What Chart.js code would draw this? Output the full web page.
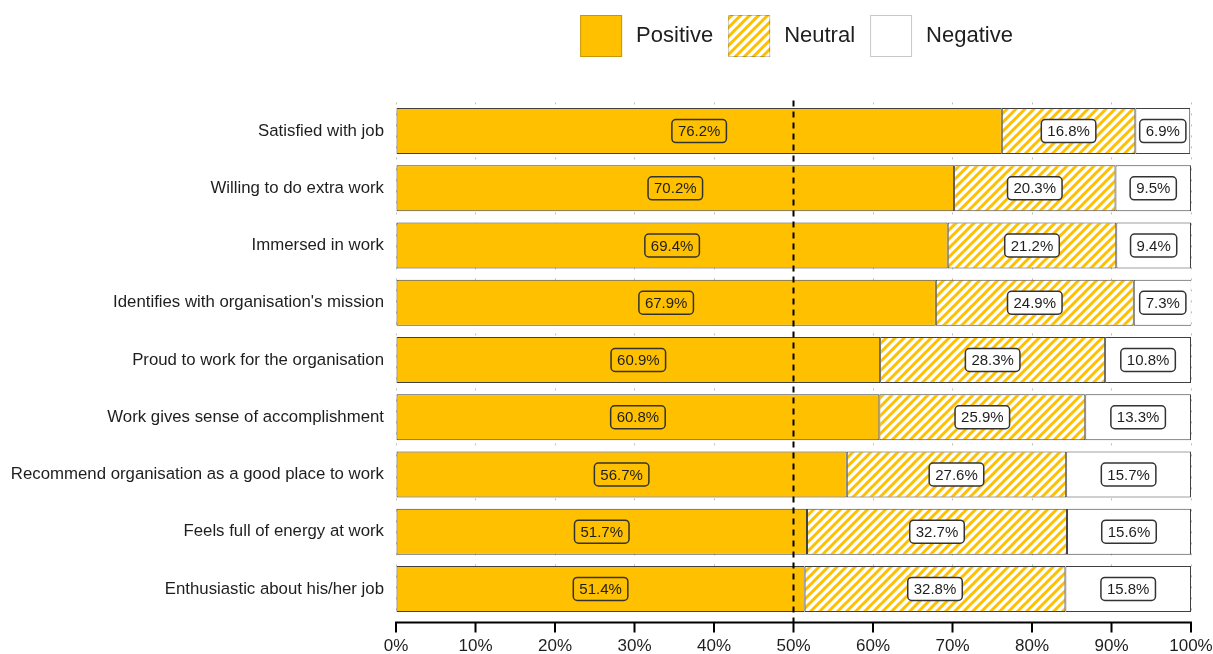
<!DOCTYPE html>
<html>
<head>
<meta charset="utf-8">
<script src="https://cdn.jsdelivr.net/npm/chart.js@4.4.1/dist/chart.umd.min.js"></script>
<style>
  html, body { margin: 0; padding: 0; background: #fff; }
  #wrap { width: 1213px; height: 654px; }
</style>
</head>
<body>
<div id="wrap"><canvas id="engChart" width="1213" height="654"></canvas></div>
<script>
// data
const categories = [
    'Satisfied with job',
    'Willing to do extra work',
    'Immersed in work',
    "Identifies with organisation's mission",
    'Proud to work for the organisation',
    'Work gives sense of accomplishment',
    'Recommend organisation as a good place to work',
    'Feels full of energy at work',
    'Enthusiastic about his/her job'
];
const positive = [76.2, 70.2, 69.4, 67.9, 60.9, 60.8, 56.7, 51.7, 51.4];
const neutral  = [16.8, 20.3, 21.2, 24.9, 28.3, 25.9, 27.6, 32.7, 32.8];
const negative = [6.9, 9.5, 9.4, 7.3, 10.8, 13.3, 15.7, 15.6, 15.8];
const seriesNames = ['Positive', 'Neutral', 'Negative'];
const xTickStep = 10;
const refLine = 50;

const FONT = "'Liberation Sans', Arial, sans-serif";
const GOLD = '#FFC000';
const INK = '#1e1e1e';

// diagonal hatch for the neutral share
const makeHatch = () => {
    const s = 9;
    const c = document.createElement('canvas');
    c.width = s; c.height = s;
    const g = c.getContext('2d');
    g.fillStyle = '#fff';
    g.fillRect(0, 0, s, s);
    g.strokeStyle = GOLD;
    g.lineWidth = 3;
    g.beginPath();
    g.moveTo(-2, s + 2); g.lineTo(s + 2, -2);
    g.moveTo(-2, 2); g.lineTo(2, -2);
    g.moveTo(s - 2, s + 2); g.lineTo(s + 2, s - 2);
    g.stroke();
    return g.createPattern(c, 'repeat');
};

// legend drawn at the top, centred on the plot area
const legendPlugin = {
    id: 'topLegend',
    afterDraw(chart) {
        const ctx = chart.ctx;
        const box = 42, gapText = 14, gapItem = 15, top = 15;
        ctx.save();
        ctx.font = '22px ' + FONT;
        const items = chart.data.datasets.map(ds => ({ ds, w: ctx.measureText(ds.label).width }));
        const total = items.reduce((a, it) => a + box + gapText + it.w, 0) + gapItem * (items.length - 1);
        let x = (chart.chartArea.left + chart.chartArea.right) / 2 - total / 2 + 3;
        items.forEach(it => {
            ctx.fillStyle = it.ds.backgroundColor;
            ctx.fillRect(x, top, box, box);
            ctx.strokeStyle = 'rgba(0,0,0,0.22)';
            ctx.lineWidth = 1;
            ctx.strokeRect(x + 0.5, top + 0.5, box - 1, box - 1);
            ctx.fillStyle = INK;
            ctx.textBaseline = 'middle';
            ctx.textAlign = 'left';
            ctx.fillText(it.ds.label, x + box + gapText, top + box / 2);
            x += box + gapText + it.w + gapItem;
        });
        ctx.restore();
    }
};

// axis line a bit below the bars, 50% dashed line, value boxes
const overlayPlugin = {
    id: 'overlay',
    afterDatasetsDraw(chart) {
        const ctx = chart.ctx;
        const xs = chart.scales.x;
        const area = chart.chartArea;
        const axisY = area.bottom + 5;

        ctx.save();
        // x axis line + ticks
        ctx.strokeStyle = '#000';
        ctx.lineWidth = 2;
        ctx.beginPath();
        ctx.moveTo(area.left - 1, axisY);
        ctx.lineTo(area.right + 1, axisY);
        xs.ticks.forEach((t, i) => {
            const px = xs.getPixelForTick(i);
            ctx.moveTo(px, axisY);
            ctx.lineTo(px, axisY + 10);
        });
        ctx.stroke();

        // reference line at 50%
        const rx = xs.getPixelForValue(refLine);
        ctx.setLineDash([6, 5]);
        ctx.beginPath();
        ctx.moveTo(rx, area.top - 2);
        ctx.lineTo(rx, axisY);
        ctx.stroke();
        ctx.setLineDash([]);

        // value labels
        ctx.font = '15px ' + FONT;
        ctx.textAlign = 'center';
        ctx.textBaseline = 'middle';
        chart.data.datasets.forEach((ds, di) => {
            const meta = chart.getDatasetMeta(di);
            meta.data.forEach((bar, j) => {
                const txt = ds.data[j].toFixed(1) + '%';
                const cx = (bar.x + bar.base) / 2;
                const cy = bar.y;
                const w = ctx.measureText(txt).width + 12;
                const h = 23;
                ctx.beginPath();
                ctx.roundRect(cx - w / 2, cy - h / 2, w, h, 4);
                if (di > 0) {
                    ctx.fillStyle = '#fff';
                    ctx.fill();
                }
                ctx.strokeStyle = '#333';
                ctx.lineWidth = 1.5;
                ctx.stroke();
                ctx.fillStyle = INK;
                ctx.fillText(txt, cx, cy + 1);
            });
        });
        ctx.restore();
    }
};

document.addEventListener('DOMContentLoaded', function () {
    const hatch = makeHatch();
    const fills = [GOLD, hatch, '#ffffff'];
    const values = [positive, neutral, negative];

    new Chart(document.getElementById('engChart'), {
        type: 'bar',
        data: {
            labels: categories,
            datasets: seriesNames.map((name, i) => ({
                label: name,
                data: values[i],
                backgroundColor: fills[i],
                borderColor: '#404040',
                borderWidth: 1,
                borderSkipped: false,
                barPercentage: 0.8,
                categoryPercentage: 1
            }))
        },
        options: {
            indexAxis: 'y',
            responsive: false,
            animation: false,
            layout: { padding: { top: 102.4, right: 22, left: 0, bottom: 0 } },
            plugins: {
                legend: { display: false },
                tooltip: { enabled: false }
            },
            scales: {
                x: {
                    stacked: true,
                    min: 0,
                    max: 100,
                    ticks: {
                        stepSize: xTickStep,
                        callback: v => v + '%',
                        color: INK,
                        font: { family: FONT, size: 17 },
                        padding: 19
                    },
                    grid: { color: '#bdbdbd', drawTicks: false },
                    border: { display: false, dash: [2, 9] },
                    afterFit: s => {
                        s.height = 36.4;
                        s.paddingLeft = 0;
                        s.paddingRight = 0;
                    }
                },
                y: {
                    stacked: true,
                    grid: { display: false, drawTicks: false },
                    border: { display: false },
                    ticks: {
                        color: INK,
                        font: { family: FONT, size: 16.8 },
                        padding: 12
                    },
                    afterFit: s => { s.width = 396; }
                }
            }
        },
        plugins: [legendPlugin, overlayPlugin]
    });
});
</script>
</body>
</html>
